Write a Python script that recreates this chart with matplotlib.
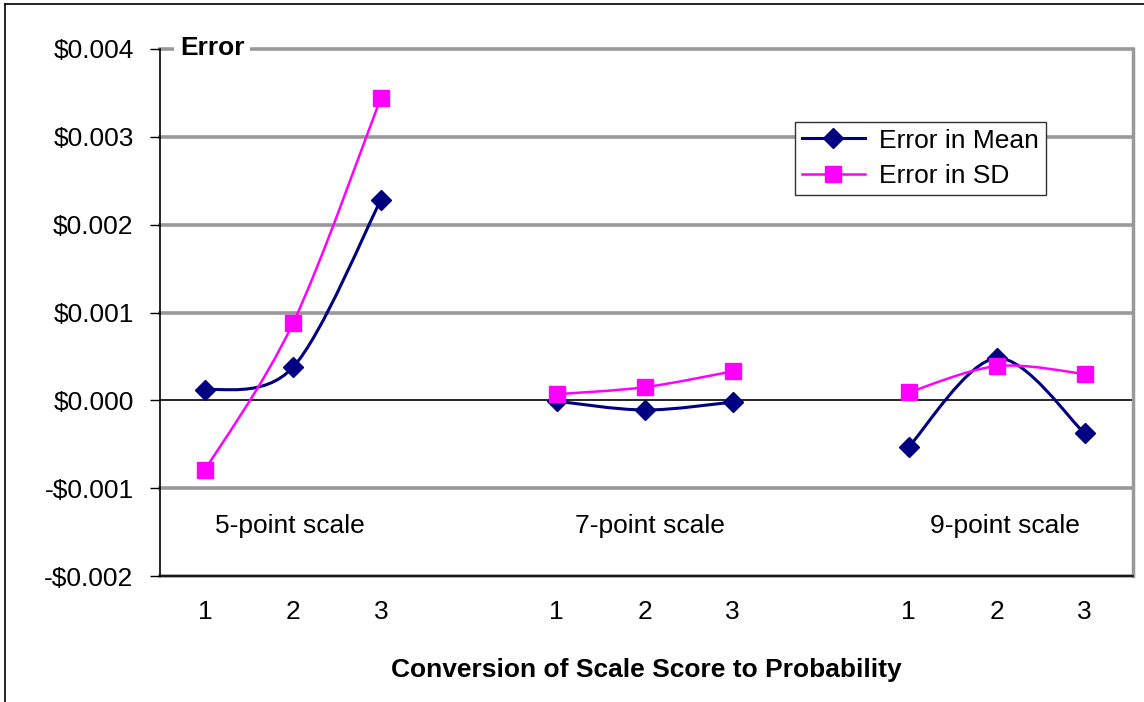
import numpy as np
import matplotlib
matplotlib.use("Agg")
import matplotlib.pyplot as plt
from matplotlib.path import Path
from matplotlib.patches import PathPatch
from matplotlib.ticker import FuncFormatter
from matplotlib.lines import Line2D

plt.rcParams['font.family'] = ['Liberation Sans', 'DejaVu Sans']

# ---- data ----
groups = ["5-point scale", "7-point scale", "9-point scale"]
group_positions = [[1, 2, 3], [5, 6, 7], [9, 10, 11]]
tick_labels = ["1", "2", "3", "1", "2", "3", "1", "2", "3"]
error_mean = [[0.000114, 0.000375, 0.00228],
              [-0.00001, -0.00011, -0.00002],
              [-0.00053, 0.00048, -0.000375]]
error_sd = [[-0.000795, 0.000875, 0.00344],
            [0.00007, 0.00015, 0.00033],
            [0.00009, 0.00039, 0.0003]]
series_names = ["Error in Mean", "Error in SD"]
y_ticks = [-0.002, -0.001, 0.0, 0.001, 0.002, 0.003, 0.004]

NAVY = "#000080"
MAGENTA = "#FF00FF"
GRID = "#999999"
FS = 19

fig = plt.figure(figsize=(11.44, 7.02), dpi=100)
ax = fig.add_axes([160/1144, 1-576/702, (1133-160)/1144, (576-49)/702])

def smooth_path(xs, ys, k=1/6):
    xs = np.asarray(xs, float); ys = np.asarray(ys, float)
    n = len(xs)
    verts = [(xs[0], ys[0])]
    codes = [Path.MOVETO]
    for i in range(n-1):
        i0 = max(i-1, 0); i3 = min(i+2, n-1)
        c1 = (xs[i] + (xs[i+1]-xs[i0])*k, ys[i] + (ys[i+1]-ys[i0])*k)
        c2 = (xs[i+1] - (xs[i3]-xs[i])*k, ys[i+1] - (ys[i3]-ys[i])*k)
        verts += [c1, c2, (xs[i+1], ys[i+1])]
        codes += [Path.CURVE4]*3
    return Path(verts, codes)

for xs, m, s in zip(group_positions, error_mean, error_sd):
    ax.add_patch(PathPatch(smooth_path(xs, m), facecolor='none', edgecolor=NAVY, lw=2.2, zorder=3))
    ax.add_patch(PathPatch(smooth_path(xs, s), facecolor='none', edgecolor=MAGENTA, lw=1.8, zorder=3))
    ax.plot(xs, m, linestyle='none', marker='D', ms=10, color=NAVY, zorder=4)
    ax.plot(xs, s, linestyle='none', marker='s', ms=11, color=MAGENTA, zorder=4)

ax.set_xlim(0.49, 11.55)
ax.set_ylim(-0.002, 0.004)

# gridlines
for yv in y_ticks:
    if yv == 0.0:
        ax.axhline(yv, color='black', lw=1.2, zorder=2)
    else:
        ax.axhline(yv, color=GRID, lw=2.6, zorder=1, clip_on=False)

ax.set_yticks(y_ticks)
def fmt(v, pos):
    if abs(v) < 1e-12:
        return "$0.000"
    sign = "-" if v < 0 else ""
    return f"{sign}${abs(v):.3f}"
ax.yaxis.set_major_formatter(FuncFormatter(fmt))
ax.tick_params(axis='y', direction='out', length=7, width=1, labelsize=FS, pad=12)

all_pos = [p for g in group_positions for p in g]
ax.set_xticks(all_pos)
ax.set_xticklabels(tick_labels)
ax.tick_params(axis='x', length=0, labelsize=FS, pad=17)

ax.spines['top'].set_visible(False)
ax.spines['right'].set_color(GRID)
ax.spines['right'].set_linewidth(2.5)
ax.spines['left'].set_color('black')
ax.spines['left'].set_linewidth(1.2)
ax.spines['left'].set_zorder(5)
ax.spines['bottom'].set_color('black')
ax.spines['bottom'].set_linewidth(1.2)
ax.spines['bottom'].set_zorder(5)

# group labels
group_label_x = [1.97, 6.06, 10.09]
for gx, name in zip(group_label_x, groups):
    ax.text(gx, -0.00143, name, ha='center', va='center', fontsize=FS)

# "Error" axis title
ax.text(180/1144, 1-48/702, "Error", transform=fig.transFigure, ha='left', va='center',
        fontsize=FS, fontweight='bold', zorder=6,
        bbox=dict(facecolor='white', edgecolor='none', pad=4))

ax.set_xlabel("Conversion of Scale Score to Probability", fontsize=19, fontweight='bold', labelpad=25)

handles = [Line2D([], [], color=NAVY, lw=2.2, marker='D', ms=10),
           Line2D([], [], color=MAGENTA, lw=1.8, marker='s', ms=11)]
leg = ax.legend(handles, series_names, loc='upper left',
                bbox_to_anchor=(795/1144, 1-122/702), bbox_transform=fig.transFigure,
                fontsize=FS, frameon=True, fancybox=False, edgecolor='#333333',
                framealpha=1, borderaxespad=0, handlelength=2.4, handletextpad=0.55,
                borderpad=0.25, labelspacing=0.45)
leg.get_frame().set_linewidth(1.0)
leg.set_zorder(7)

# figure border (top and left)
fig.add_artist(Line2D([5/1144, 5/1144], [0, 1-4/702], transform=fig.transFigure, color='black', lw=1.2))
fig.add_artist(Line2D([5/1144, 1], [1-4/702, 1-4/702], transform=fig.transFigure, color='black', lw=1.2))

fig.savefig("out.png", dpi=100)
